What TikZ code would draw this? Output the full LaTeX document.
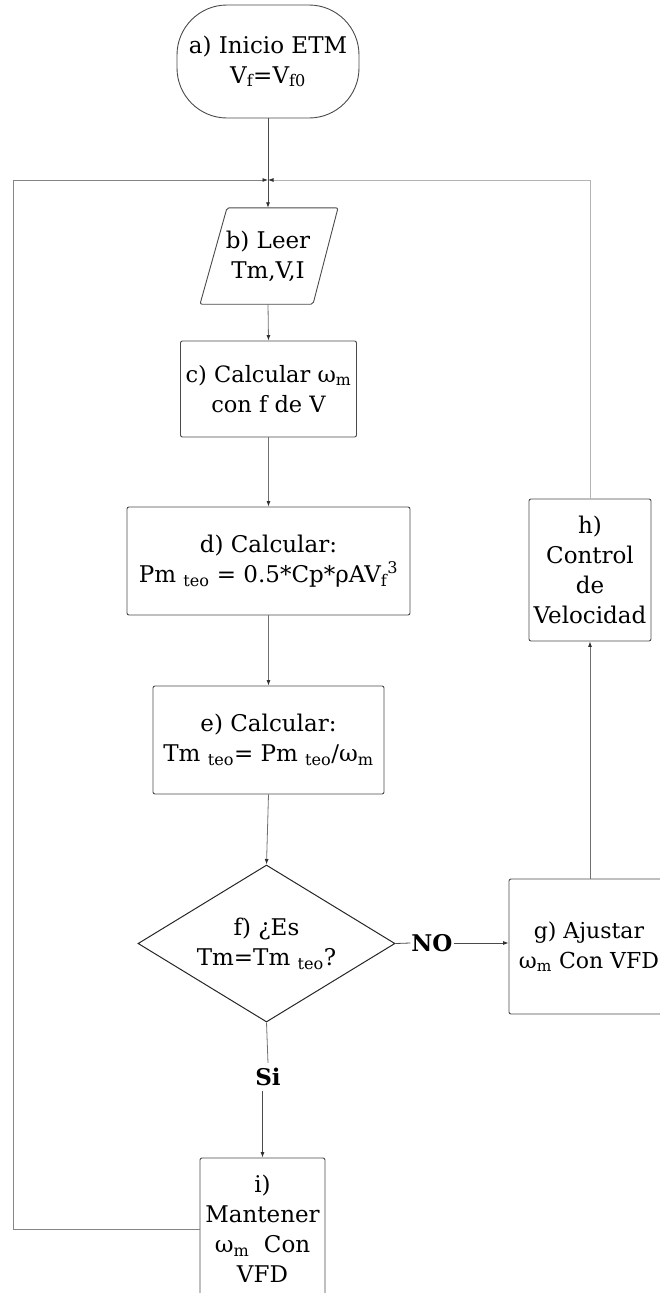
\documentclass[tikz,border=0pt]{standalone}
\usepackage{fontspec}
\setmainfont{DejaVu Serif}
\usetikzlibrary{shapes.geometric,arrows.meta}
\definecolor{boxc}{HTML}{4A4A4A}
\definecolor{linec}{HTML}{707070}
\definecolor{lightc}{HTML}{B4B4B4}
\definecolor{tipc}{HTML}{303030}
\newcommand{\sbt}[1]{\textsubscript{#1}}
\begin{document}
\begin{tikzpicture}[x=1pt,y=-1pt,
  every node/.style={font=\fontsize{23}{30}\selectfont, align=center, inner sep=0pt},
  proc/.style={draw=boxc, line width=0.9pt, rounded corners=2pt},
  lbl/.style={font=\fontsize{23}{30}\selectfont\bfseries},
  conn/.style={draw=linec, line width=0.8pt},
  arr/.style={conn, -{Latex[length=5.5pt,width=4pt,color=tipc]}}]
\useasboundingbox (0,0) rectangle (660,1293);

% nodes
\node[proc, rounded corners=50pt, minimum width=182pt, minimum height=113pt] (a) at (268,61.5)
  {a) Inicio ETM\\V\sbt{f}=V\sbt{f0}};
\coordinate (J) at (268,180);
\coordinate (L) at (13,180);
\node[minimum width=111pt, minimum height=96pt] (b) at (268,256) {b) Leer\\Tm,V,I};
\draw[draw=boxc, line width=0.9pt, rounded corners=2pt]
  ([xshift=-41pt]b.north) -- ([xshift=70pt]b.north) -- ([xshift=45pt]b.south)
  -- ([xshift=-68pt]b.south) -- cycle;
\node[proc, minimum width=176pt, minimum height=96pt, font=\fontsize{22.5}{30}\selectfont] (c) at (268.5,389)
  {c) Calcular ω\sbt{m}\\con f de V};
\node[proc, minimum width=283pt, minimum height=108pt] (d) at (268.5,561)
  {d) Calcular:\\Pm \sbt{teo} = 0.5*Cp*ρAV\sbt{f}\textsuperscript{3}};
\node[proc, minimum width=231pt, minimum height=108pt] (e) at (268.5,740)
  {e) Calcular:\\Tm \sbt{teo}= Pm \sbt{teo}/ω\sbt{m}};
\node[draw=black!85, line width=1pt, shape=diamond, shape aspect=1.64,
  minimum width=257pt, minimum height=157pt] (f) at (266.5,943.5)
  {f) ¿Es\\Tm=Tm \sbt{teo}?};
\node[lbl, inner sep=1pt] (no) at (432,943) {NO};
\node[proc, minimum width=160pt, minimum height=135pt, font=\fontsize{22}{30}\selectfont] (g) at (589,946.5)
  {g) Ajustar\\ω\sbt{m} Con VFD};
\node[proc, minimum width=122pt, minimum height=142pt] (h) at (590,570)
  {h)\\Control\\de\\Velocidad};
\node[lbl, inner sep=5pt] (si) at (268,1077) {Si};
\node[proc, minimum width=125pt, minimum height=142pt] (i) at (262.5,1229)
  {i)\\Mantener\\ω\sbt{m}\ \ Con\\VFD};

% connectors
\draw[conn, draw=boxc] (a.south) -- (J);
\draw[arr, draw=boxc] (J) -- (b.north);
\draw[arr] (b.south) -- (c.north);
\draw[arr] (c.south) -- (d.north);
\draw[arr] (d.south) -- (e.north);
\draw[arr] (e.south) -- (f.north);
\draw[conn, draw=boxc] (f.east) -- (no.west);
\draw[arr, draw=boxc] (no.east) -- (no.east -| g.west);
\draw[arr] (g.north -| h.south) -- (h.south);
\draw[arr, draw=lightc] (h.north) |- (J);
\draw[conn] (f.south) -- (si.north);
\draw[arr, draw=boxc] (si.south -| i.north) -- (i.north);
\draw[arr, draw=linec!85] (i.west) -| (L) -- (J);
\end{tikzpicture}
\end{document}
